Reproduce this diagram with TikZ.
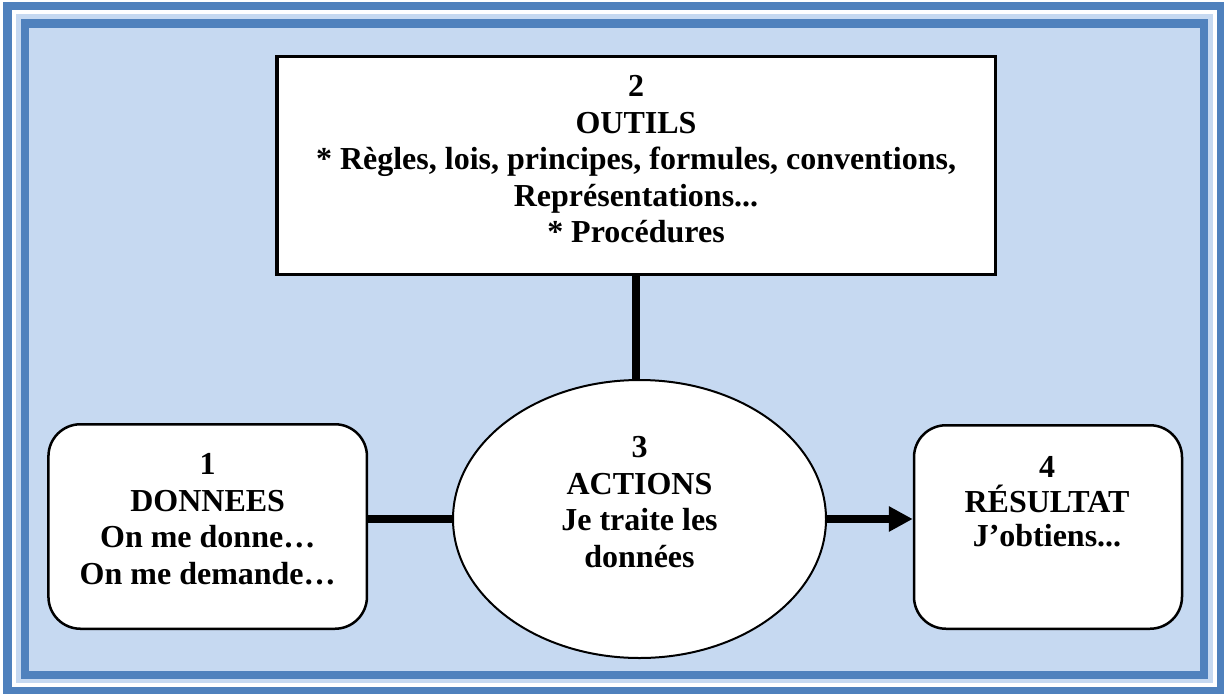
\documentclass[tikz,border=0pt]{standalone}
\usepackage{fontspec}
\setmainfont{Liberation Serif}
\usetikzlibrary{shapes.geometric,arrows.meta}
\definecolor{bandblue}{HTML}{4F81BD}
\definecolor{paleblue}{HTML}{C6D9F1}
\tikzset{
  boxtext/.style={align=center, anchor=north, inner sep=0pt, font=\fontsize{32}{36.5}\selectfont\bfseries},
  squarebox/.style={draw=black, line width=3.5pt, fill=white, inner sep=0pt},
  roundbox/.style={draw=black, line width=2.5pt, fill=white, rounded corners=32pt, inner sep=0pt},
  oval/.style={ellipse, draw=black, line width=2pt, fill=white, inner sep=0pt},
  link/.style={line width=7.5pt, draw=black},
}
\begin{document}
\begin{tikzpicture}[x=1pt,y=-1pt]
\useasboundingbox (0,0) rectangle (1224,694);
% frame
\fill[white] (0,0) rectangle (1224,694);
\fill[bandblue] (2.5,1.5) rectangle (1224,694);
\fill[white] (11.7,10) rectangle (1217,687);
\fill[paleblue] (16,14) rectangle (1213,683);
\fill[bandblue] (20.5,19) rectangle (1208,679);
\fill[paleblue] (29.3,27.7) rectangle (1199.7,670.7);
% boxes
\node[squarebox, minimum width=718.5pt, minimum height=218pt] (outils) at (636,165.5) {};
\node[oval, minimum width=373pt, minimum height=278pt] (actions) at (639.5,519) {};
\node[roundbox, minimum width=318.5pt, minimum height=204.5pt] (donnees) at (207.7,526.5) {};
\node[roundbox, minimum width=268pt, minimum height=203.5pt] (resultat) at (1048,527) {};
% connectors
\draw[link] (outils.south) -- (outils.south |- actions.north);
\draw[link] (actions.west) -- (actions.west -| donnees.east);
\draw[link, -{Triangle[length=24pt,width=24pt]}] (actions.east) -- (actions.east -| resultat.west);
% texts
\node[boxtext] (outilsT) at (636,75.4) {2\\OUTILS\\* Règles, lois, principes, formules, conventions,\\Représentations...\\* Procédures};
\node[boxtext] (actionsT) at (639.5,436.4) {3\\ACTIONS\\Je traite les\\données};
\node[boxtext] (donneesT) at (207.7,453.4) {1\\DONNEES\\On me donne…\\On me demande…};
\node[boxtext, font=\fontsize{32}{34.5}\selectfont\bfseries] (resultatT) at (1047,456.4) {4\\RÉSULTAT\\J’obtiens...};
\end{tikzpicture}
\end{document}
